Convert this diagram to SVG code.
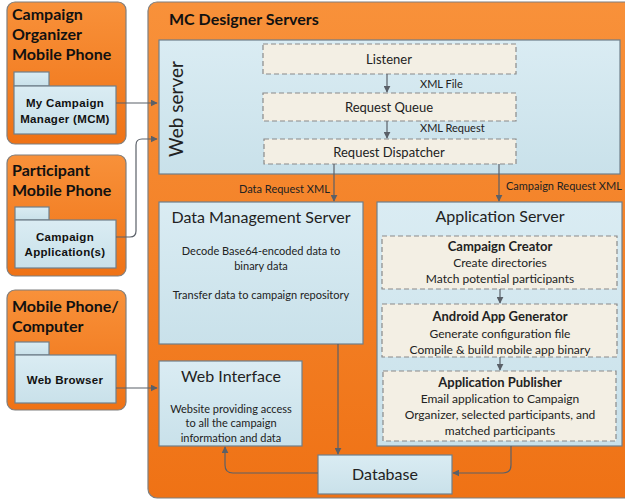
<svg xmlns="http://www.w3.org/2000/svg" width="625" height="502" viewBox="0 0 625 502">
<defs>
<linearGradient id="og" x1="0" y1="0" x2="0" y2="1"><stop offset="0" stop-color="#f8913a"/><stop offset="1" stop-color="#ef7215"/></linearGradient>
<linearGradient id="bg" x1="0" y1="0" x2="0" y2="1"><stop offset="0" stop-color="#daecf3"/><stop offset="1" stop-color="#c9e1ea"/></linearGradient>
<marker id="ah" viewBox="0 0 10 10" refX="9" refY="5" markerWidth="7" markerHeight="7" markerUnits="userSpaceOnUse" orient="auto"><path d="M0,0 L10,5 L0,10 z" fill="#5a6068"/></marker>
<style>
.org{fill:url(#og);stroke:#7f7f7f;stroke-width:1.2}
.blu{fill:url(#bg);stroke:#6f7f8a;stroke-width:1.2}
.dash{fill:#f3efe4;stroke:#8a8a8a;stroke-width:1.2;stroke-dasharray:5,3}
.hd{font-family:Lato,"Open Sans",sans-serif;font-weight:bold;font-size:16px;fill:#111}
.pk{font-family:"Liberation Sans",Arial,sans-serif;font-weight:bold;font-size:11.5px;fill:#111;text-anchor:middle;letter-spacing:0.3px}
.t{font-family:Lato,"Open Sans",sans-serif;fill:#222;text-anchor:middle}
.lb{font-family:Lato,"Open Sans",sans-serif;font-size:11px;fill:#222}
.cn{fill:none;stroke:#5a6068;stroke-width:1.2}
</style>
</defs>

<g id="mc-designer-servers">
<rect class="org" x="148" y="2" width="490" height="496" rx="9"/>
<text class="hd" x="169" y="25">MC Designer Servers</text>
</g>

<g id="campaign-organizer">
<rect class="org" x="7" y="2" width="119" height="142" rx="8"/>
<text class="hd" x="12" y="20">Campaign</text>
<text class="hd" x="12" y="40">Organizer</text>
<text class="hd" x="12" y="60">Mobile Phone</text>
<rect class="blu" x="14" y="72" width="35" height="14"/>
<rect class="blu" x="14" y="86" width="102" height="48"/>
<text class="pk" x="65" y="107">My Campaign</text>
<text class="pk" x="65" y="123">Manager (MCM)</text>
</g>

<g id="participant-phone">
<rect class="org" x="7" y="155" width="119" height="121" rx="8"/>
<text class="hd" x="12" y="176">Participant</text>
<text class="hd" x="12" y="196">Mobile Phone</text>
<rect class="blu" x="15" y="207" width="34" height="13"/>
<rect class="blu" x="15" y="220" width="101" height="48"/>
<text class="pk" x="65" y="241">Campaign</text>
<text class="pk" x="65" y="256">Application(s)</text>
</g>

<g id="mobile-computer">
<rect class="org" x="7" y="290" width="119" height="120" rx="8"/>
<text class="hd" x="12" y="312">Mobile Phone/</text>
<text class="hd" x="12" y="332">Computer</text>
<rect class="blu" x="15" y="342" width="34" height="13"/>
<rect class="blu" x="15" y="355" width="101" height="48"/>
<text class="pk" x="65" y="384">Web Browser</text>
</g>

<g id="web-server">
<rect class="blu" x="159" y="40" width="461" height="134"/>
<text class="t" font-size="19" transform="translate(183,109) rotate(-90)">Web server</text>
</g>

<g id="listener">
<rect class="dash" x="263" y="44" width="253" height="30"/>
<text class="t" font-size="13" x="389" y="64">Listener</text>
</g>
<g id="request-queue">
<rect class="dash" x="263" y="93" width="253" height="28"/>
<text class="t" font-size="13" x="389" y="112">Request Queue</text>
</g>
<g id="request-dispatcher">
<rect class="dash" x="264" y="139" width="252" height="25"/>
<text class="t" font-size="13" x="389" y="157">Request Dispatcher</text>
</g>

<g id="data-management-server">
<rect class="blu" x="159" y="202" width="204" height="142"/>
<text class="t" font-size="16" x="261" y="223">Data Management Server</text>
<text class="t" font-size="11" x="261" y="255">Decode Base64-encoded data to</text>
<text class="t" font-size="11" x="261" y="270">binary data</text>
<text class="t" font-size="11" x="261" y="299">Transfer data to campaign repository</text>
</g>

<g id="application-server">
<rect class="blu" x="377" y="202" width="245" height="244"/>
<text class="t" font-size="16" x="500" y="222">Application Server</text>
</g>
<g id="campaign-creator">
<rect class="dash" x="382" y="236" width="235" height="53"/>
<text class="t" font-size="13" font-weight="bold" x="500" y="251">Campaign Creator</text>
<text class="t" font-size="12" x="500" y="267">Create directories</text>
<text class="t" font-size="12" x="500" y="283">Match potential participants</text>
</g>
<g id="android-app-generator">
<rect class="dash" x="382" y="304" width="235" height="53"/>
<text class="t" font-size="13" font-weight="bold" x="500" y="321">Android App Generator</text>
<text class="t" font-size="12" x="500" y="338">Generate configuration file</text>
<text class="t" font-size="12" x="500" y="354">Compile &amp; build mobile app binary</text>
</g>
<g id="application-publisher">
<rect class="dash" x="383" y="371" width="233" height="70"/>
<text class="t" font-size="13" font-weight="bold" x="500" y="387">Application Publisher</text>
<text class="t" font-size="12" x="500" y="403">Email application to Campaign</text>
<text class="t" font-size="12" x="500" y="419">Organizer, selected participants, and</text>
<text class="t" font-size="12" x="500" y="435">matched participants</text>
</g>

<g id="web-interface">
<rect class="blu" x="159" y="361" width="143" height="85"/>
<text class="t" font-size="16" x="231" y="382">Web Interface</text>
<text class="t" font-size="11" x="231" y="413">Website providing access</text>
<text class="t" font-size="11" x="231" y="427">to all the campaign</text>
<text class="t" font-size="11" x="231" y="442">information and data</text>
</g>

<g id="database">
<rect class="blu" x="318" y="455" width="134" height="39"/>
<text class="t" font-size="16" x="385" y="480">Database</text>
</g>

<g id="connectors">
<path class="cn" d="M116,103 H157" marker-end="url(#ah)"/>
<path class="cn" d="M116,237 H130 Q136,237 136,231 V145 Q136,139 142,139 H157" marker-end="url(#ah)"/>
<path class="cn" d="M116,388 H157" marker-end="url(#ah)"/>
<path class="cn" d="M387,74 V92" marker-end="url(#ah)"/>
<path class="cn" d="M387,121 V138" marker-end="url(#ah)"/>
<path class="cn" d="M334,164 V201" marker-end="url(#ah)"/>
<path class="cn" d="M499,164 V201" marker-end="url(#ah)"/>
<path class="cn" d="M500,289 V303" marker-end="url(#ah)"/>
<path class="cn" d="M500,357 V370" marker-end="url(#ah)"/>
<path class="cn" d="M338,344 V454" marker-end="url(#ah)"/>
<path class="cn" d="M511,446 V465 Q511,473 503,473 H453" marker-end="url(#ah)"/>
<path class="cn" d="M318,473 H233 Q225,473 225,465 V447" marker-end="url(#ah)"/>
<text class="lb" x="420" y="88">XML File</text>
<text class="lb" x="420" y="132">XML Request</text>
<text class="lb" x="239" y="193">Data Request XML</text>
<text class="lb" x="506" y="190">Campaign Request XML</text>
</g>
</svg>
